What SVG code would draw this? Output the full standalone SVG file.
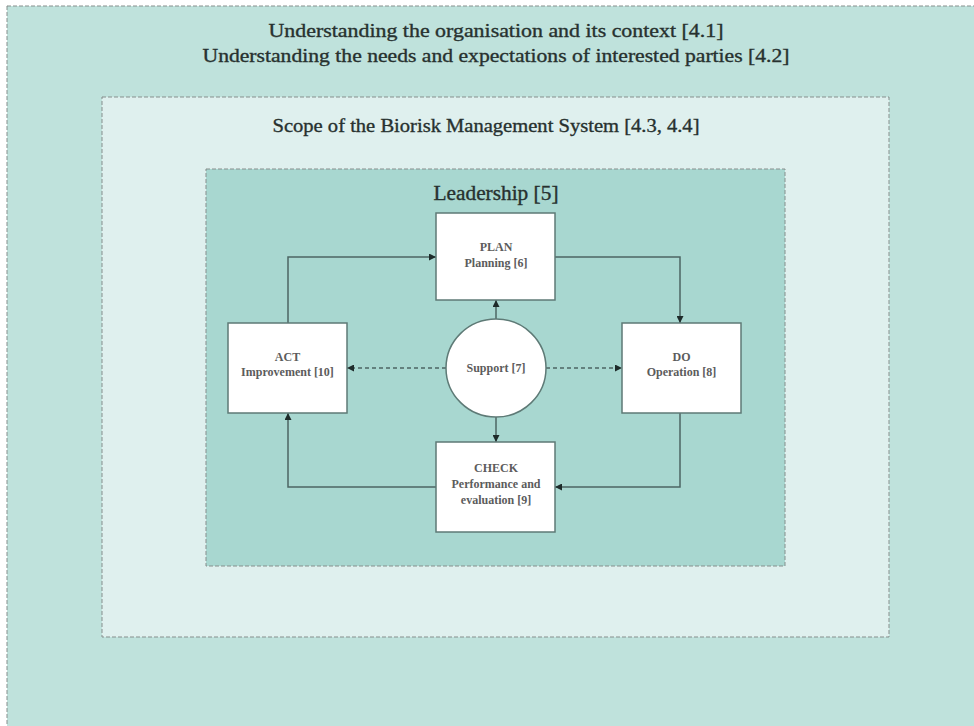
<svg xmlns="http://www.w3.org/2000/svg" width="974" height="726" viewBox="0 0 974 726">
<style>
.frame{stroke:#868f8d;stroke-width:1;stroke-dasharray:4 2}
.title{font-family:"Liberation Serif","DejaVu Serif",serif;fill:#27312f;stroke:#27312f;stroke-width:0.35}
.box{fill:#ffffff;stroke:#5e7a76;stroke-width:1.5}
.lbl{font-family:"Liberation Serif","DejaVu Serif",serif;font-size:12px;font-weight:bold;fill:#5c5c5c;text-anchor:middle}
.conn{fill:none;stroke:#4c6663;stroke-width:1.5}
.dash{stroke-dasharray:4 3}
</style>
<defs>
<marker id="ah" viewBox="0 0 10 10" refX="10" refY="5" markerWidth="7" markerHeight="7" markerUnits="userSpaceOnUse" orient="auto">
<path d="M0,0 L10,5 L0,10 z" fill="#1e2b2a"/>
</marker>
</defs>
<rect width="974" height="726" fill="#ffffff"/>
<g id="context">
<rect x="7" y="6" width="990" height="740" fill="#bfe2dc" class="frame"/>
<text class="title" x="496" y="37" font-size="19" text-anchor="middle" textLength="455" lengthAdjust="spacingAndGlyphs">Understanding the organisation and its context [4.1]</text>
<text class="title" x="496" y="62" font-size="19" text-anchor="middle" textLength="587" lengthAdjust="spacingAndGlyphs">Understanding the needs and expectations of interested parties [4.2]</text>
</g>
<g id="scope">
<rect x="102" y="97" width="787" height="540" fill="#dff0ee" class="frame"/>
<text class="title" x="486" y="132" font-size="19" text-anchor="middle" textLength="427" lengthAdjust="spacingAndGlyphs">Scope of the Biorisk Management System [4.3, 4.4]</text>
</g>
<g id="leadership">
<rect x="206" y="169" width="579" height="397" fill="#a8d7d0" class="frame"/>
<text class="title" x="496" y="200" font-size="20" text-anchor="middle" textLength="125" lengthAdjust="spacingAndGlyphs">Leadership [5]</text>
</g>
<g id="connectors">
<path class="conn" d="M288,323 V257 H436" marker-end="url(#ah)"/>
<path class="conn" d="M555,257 H680 V323" marker-end="url(#ah)"/>
<path class="conn" d="M680,413 V487 H555" marker-end="url(#ah)"/>
<path class="conn" d="M436,487 H288 V413" marker-end="url(#ah)"/>
<path class="conn" d="M496,319 V300" marker-end="url(#ah)"/>
<path class="conn" d="M496,417 V442" marker-end="url(#ah)"/>
<path class="conn dash" d="M446,368 H347" marker-end="url(#ah)"/>
<path class="conn dash" d="M546,368 H622" marker-end="url(#ah)"/>
</g>
<g id="plan">
<rect class="box" x="436" y="213" width="119" height="87"/>
<text class="lbl" x="496" y="251">PLAN</text>
<text class="lbl" x="496" y="267">Planning [6]</text>
</g>
<g id="do">
<rect class="box" x="622" y="323" width="119" height="90"/>
<text class="lbl" x="681.5" y="361">DO</text>
<text class="lbl" x="681.5" y="376">Operation [8]</text>
</g>
<g id="check">
<rect class="box" x="436" y="442" width="119" height="90"/>
<text class="lbl" x="496" y="472">CHECK</text>
<text class="lbl" x="496" y="488">Performance and</text>
<text class="lbl" x="496" y="504">evaluation [9]</text>
</g>
<g id="act">
<rect class="box" x="228" y="323" width="119" height="90"/>
<text class="lbl" x="287.5" y="361">ACT</text>
<text class="lbl" x="287.5" y="376">Improvement [10]</text>
</g>
<g id="support">
<ellipse class="box" cx="496" cy="368" rx="50" ry="49"/>
<text class="lbl" x="496" y="372">Support [7]</text>
</g>
</svg>
